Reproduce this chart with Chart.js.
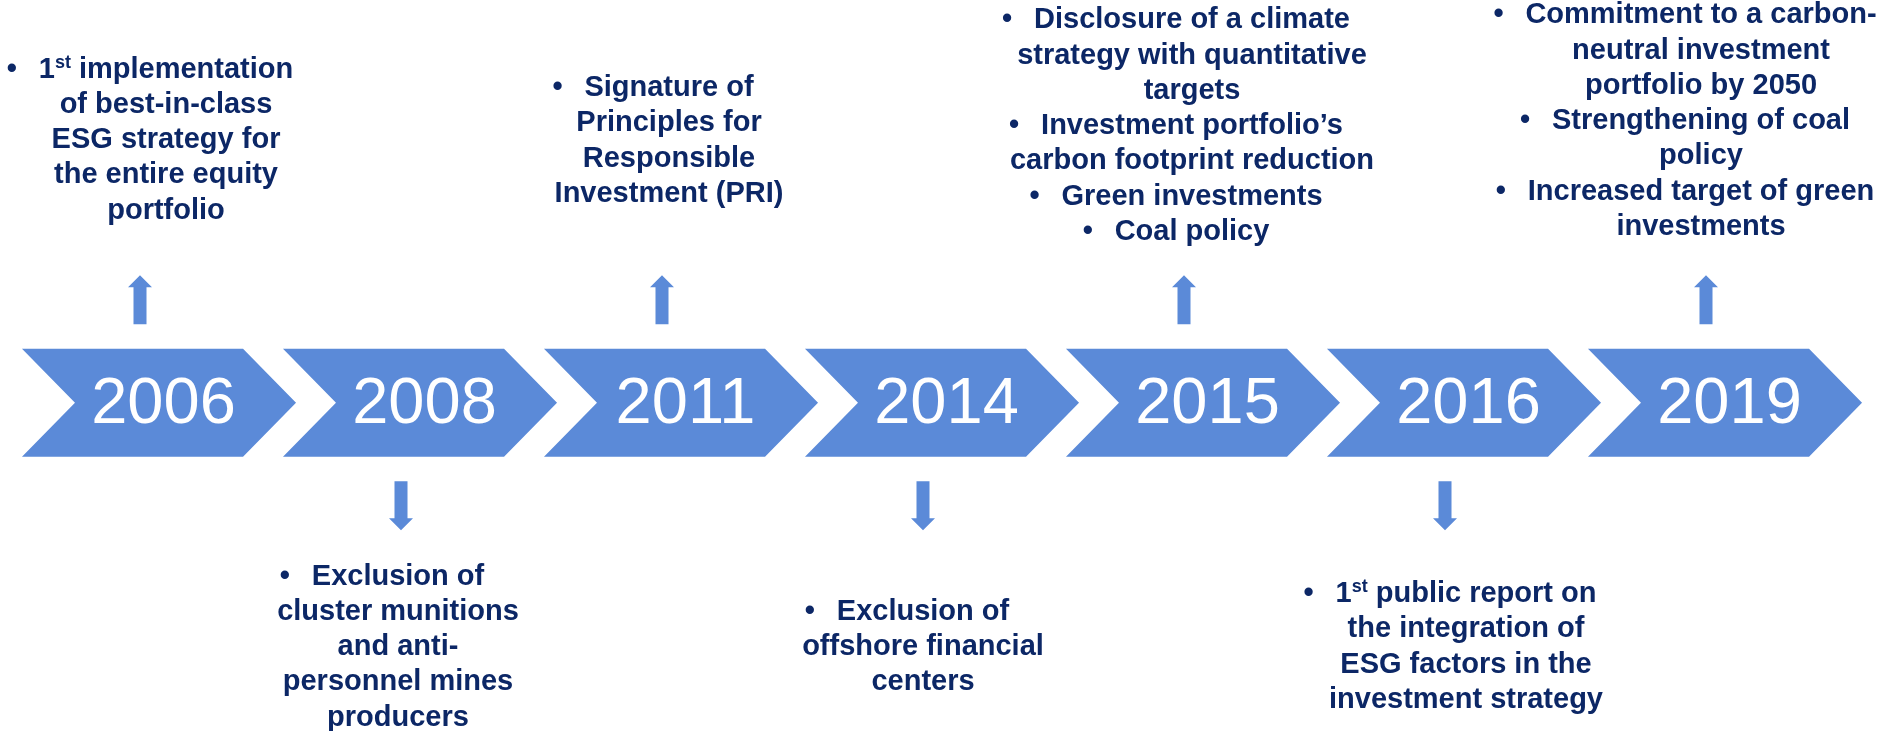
<!DOCTYPE html>
<html>
<head>
<meta charset="utf-8">
<script src="https://cdn.jsdelivr.net/npm/chart.js@4.4.0/dist/chart.umd.min.js"></script>
<style>
  html, body { margin: 0; padding: 0; background: #fff; }
  #wrap { width: 1879px; height: 731px; }
</style>
</head>
<body>
<div id="wrap"><canvas id="timeline"></canvas></div>
<script>
// timeline milestones
const years = ["2006", "2008", "2011", "2014", "2015", "2016", "2019"];
const sides = ["up", "down", "up", "down", "up", "down", "up"];
// one entry per milestone: its bullets, each bullet split in its wrapped lines
// ("^st" marks a superscript)
const notes = [
  [["1^st implementation", "of best-in-class", "ESG strategy for", "the entire equity", "portfolio"]],
  [["Exclusion of", "cluster munitions", "and anti-", "personnel mines", "producers"]],
  [["Signature of", "Principles for", "Responsible", "Investment (PRI)"]],
  [["Exclusion of", "offshore financial", "centers"]],
  [["Disclosure of a climate", "strategy with quantitative", "targets"],
   ["Investment portfolio’s", "carbon footprint reduction"],
   ["Green investments"],
   ["Coal policy"]],
  [["1^st public report on", "the integration of", "ESG factors in the", "investment strategy"]],
  [["Commitment to a carbon-", "neutral investment", "portfolio by 2050"],
   ["Strengthening of coal", "policy"],
   ["Increased target of green", "investments"]]
];
// every chevron spans the whole band
const band = years.map(() => [0, 1]);

// look
const BLUE = "#5b8ad8";
const NAVY = "#0c2766";
const FONT = "'Liberation Sans', Arial, Helvetica, sans-serif";
const LINE_H = 35.3;
const noteDx = [7, -22, -12, -19, -11, 2, -24];      // text block shift from chevron centre
const noteDy = [-265, 242, -264, 242, -279, 242, -284]; // text block middle from chevron middle
const ARROW_DX = -19;

function segments(line) {
  const m = line.match(/^(.*?)\^(\w+)(.*)$/);
  if (!m) return [{ t: line }];
  return [{ t: m[1] }, { t: m[2], sup: true }, { t: m[3] }];
}

function lineWidth(ctx, line) {
  let w = 0;
  segments(line).forEach(s => {
    ctx.font = s.sup ? "bold 18px " + FONT : "bold 29px " + FONT;
    w += ctx.measureText(s.t).width;
  });
  return w;
}

function drawLine(ctx, line, x, baseline) {
  segments(line).forEach(s => {
    ctx.font = s.sup ? "bold 18px " + FONT : "bold 29px " + FONT;
    ctx.fillText(s.t, x, s.sup ? baseline - 10 : baseline);
    x += ctx.measureText(s.t).width;
  });
}

function drawArrow(ctx, cx, from, to) {
  // from = tail end, to = tip
  const dir = Math.sign(to - from);
  const head = 12, shaft = 6.5, wing = 12;
  const neck = to - dir * head;
  ctx.beginPath();
  ctx.moveTo(cx - shaft, from);
  ctx.lineTo(cx - shaft, neck);
  ctx.lineTo(cx - wing, neck);
  ctx.lineTo(cx, to);
  ctx.lineTo(cx + wing, neck);
  ctx.lineTo(cx + shaft, neck);
  ctx.lineTo(cx + shaft, from);
  ctx.closePath();
  ctx.fillStyle = BLUE;
  ctx.fill();
}

const chevrons = {
  id: "chevrons",
  afterDraw(chart) {
    const ctx = chart.ctx;
    const meta = chart.getDatasetMeta(0);
    ctx.save();
    meta.data.forEach((bar, i) => {
      const p = bar.getProps(["x", "y", "base", "width"], true);
      const left = p.x - p.width / 2, right = p.x + p.width / 2;
      const top = Math.min(p.y, p.base), bottom = Math.max(p.y, p.base);
      const mid = (top + bottom) / 2;
      const depth = (bottom - top) / 2 - 1;

      ctx.beginPath();
      ctx.moveTo(left, top);
      ctx.lineTo(right - depth, top);
      ctx.lineTo(right, mid);
      ctx.lineTo(right - depth, bottom);
      ctx.lineTo(left, bottom);
      ctx.lineTo(left + depth, mid);
      ctx.closePath();
      ctx.fillStyle = BLUE;
      ctx.fill();

      // year
      ctx.fillStyle = "#ffffff";
      ctx.font = "65px " + FONT;
      ctx.textAlign = "center";
      ctx.textBaseline = "alphabetic";
      ctx.fillText(years[i], p.x + 4.5, mid + 20.5);

      // arrow
      const ax = p.x + ARROW_DX;
      if (sides[i] === "up") drawArrow(ctx, ax, top - 24.5, top - 73.5);
      else drawArrow(ctx, ax, bottom + 24.5, bottom + 73.5);

      // notes
      const lines = [];
      notes[i].forEach(b => b.forEach((l, k) => lines.push({ text: l, bullet: k === 0 })));
      const cx = p.x + noteDx[i];
      const first = mid + noteDy[i] - (lines.length - 1) * LINE_H / 2;
      ctx.textAlign = "left";
      ctx.fillStyle = NAVY;
      lines.forEach((l, k) => {
        const base = first + k * LINE_H + 10.4;
        const w = lineWidth(ctx, l.text);
        if (l.bullet) {
          const total = 32 + w;
          const x0 = cx - 16 - total / 2;
          ctx.font = "bold 29px " + FONT;
          ctx.fillText("•", x0, base);
          drawLine(ctx, l.text, x0 + 32, base);
        } else {
          drawLine(ctx, l.text, cx - w / 2, base);
        }
      });
    });
    ctx.restore();
  }
};

new Chart(document.getElementById("timeline"), {
  type: "bar",
  data: {
    labels: years,
    datasets: [{
      data: band,
      backgroundColor: "rgba(0,0,0,0)",
      borderWidth: 0,
      categoryPercentage: 1,
      barPercentage: 1.05
    }]
  },
  options: {
    responsive: true,
    maintainAspectRatio: false,
    animation: false,
    layout: { padding: { left: 28.5, right: 23.5, top: 348.7, bottom: 274.3 } },
    scales: {
      x: { display: false },
      y: { display: false, min: 0, max: 1 }
    },
    plugins: {
      legend: { display: false },
      tooltip: { enabled: false }
    }
  },
  plugins: [chevrons]
});
</script>
</body>
</html>
